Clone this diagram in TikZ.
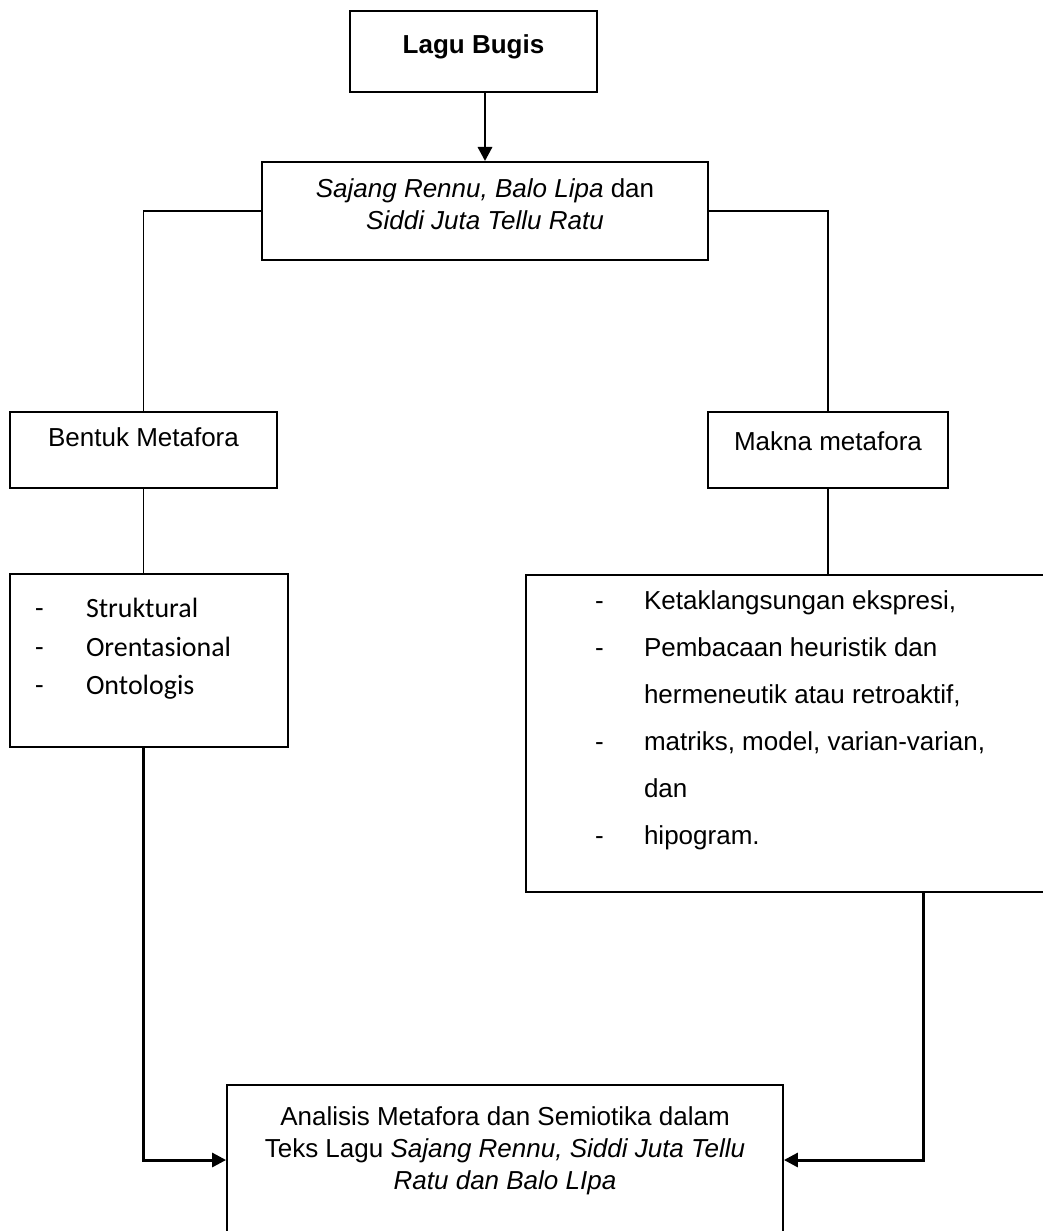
\documentclass[tikz,border=0pt]{standalone}
\usepackage{fontspec}
\setmainfont{Liberation Sans}
\newfontfamily\calibri{Carlito}
\usetikzlibrary{calc,arrows.meta}

\tikzset{
  box/.style={draw, line width=1.1pt, inner sep=0pt},
  link/.style={line width=1.1pt},
  arrow/.style={-{Triangle[length=8pt,width=8pt]}, line width=1.7pt},
}
% width, height, space on top, text
\newcommand{\boxtext}[4]{\parbox[c][#2][t]{#1}{\vspace*{#3}#4}}
\newcommand{\dashitem}[1]{\hspace*{1.38cm}\makebox[0.98cm][l]{-}#1}
\newcommand{\calitem}[1]{\hspace*{0.5cm}\makebox[1.02cm][l]{-}#1}

\begin{document}
\begin{tikzpicture}[x=0.02cm, y=-0.02cm]
  \useasboundingbox (0,0) rectangle (1042,1231);
  \node[box] (lagu) at (473.5,51.5) {\boxtext{4.94cm}{1.62cm}{0.47cm}{\centering
    \fontsize{14.8pt}{18.2pt}\selectfont\bfseries Lagu Bugis}};
  \node[box] (judul) at (485,211) {\boxtext{8.92cm}{1.96cm}{0.34cm}{\centering
    \fontsize{14.8pt}{18.2pt}\selectfont
    \textit{Sajang Rennu, Balo Lipa} dan\\ \textit{Siddi Juta Tellu Ratu}}};
  \node[box] (bentuk) at (143.5,450) {\boxtext{5.34cm}{1.52cm}{0.32cm}{\centering
    \fontsize{14.8pt}{18.2pt}\selectfont Bentuk Metafora}};
  \node[box] (makna) at (828,450) {\boxtext{4.8cm}{1.52cm}{0.40cm}{\centering
    \fontsize{14.8pt}{18.2pt}\selectfont Makna metafora}};
  \node[box] (list1) at (149,660.5) {\boxtext{5.56cm}{3.46cm}{0.49cm}{%
    \calibri\fontsize{15.9pt}{21.9pt}\selectfont
    \calitem{Struktural}\\
    \calitem{Orentasional}\\
    \calitem{Ontologis}}};
  \node[box] (biglist) at (794,733.5) {\boxtext{10.72cm}{6.34cm}{0.32cm}{%
    \fontsize{14.8pt}{26.7pt}\selectfont
    \dashitem{Ketaklangsungan ekspresi,}\\
    \dashitem{Pembacaan heuristik dan}\\
    \hspace*{2.36cm}hermeneutik atau retroaktif,\\
    \dashitem{matriks, model, varian-varian,}\\
    \hspace*{2.36cm}dan\\
    \dashitem{hipogram.}}};
  \node[box] (analisis) at (505,1160) {\boxtext{11.12cm}{3.0cm}{0.44cm}{\centering
    \fontsize{14.8pt}{18.2pt}\selectfont
    Analisis Metafora dan Semiotika dalam\\
    Teks Lagu \textit{Sajang Rennu, Siddi Juta Tellu}\\
    \textit{Ratu dan Balo LIpa}}};

  \draw[arrow] (lagu.south -| judul.north) -- (judul.north);
  \draw[link] (judul.west) -| (bentuk.north);
  \draw[link] (judul.east) -| (makna.north);
  \draw[link] (bentuk.south) -- (bentuk.south |- list1.north);
  \draw[link] (makna.south) -- (makna.south |- biglist.north);
  \draw[arrow] (list1.south -| bentuk.south) |- (analisis.west);
  \draw[arrow] ($(biglist.south west)!0.74!(biglist.south east)$) |- (analisis.east);
\end{tikzpicture}
\end{document}
